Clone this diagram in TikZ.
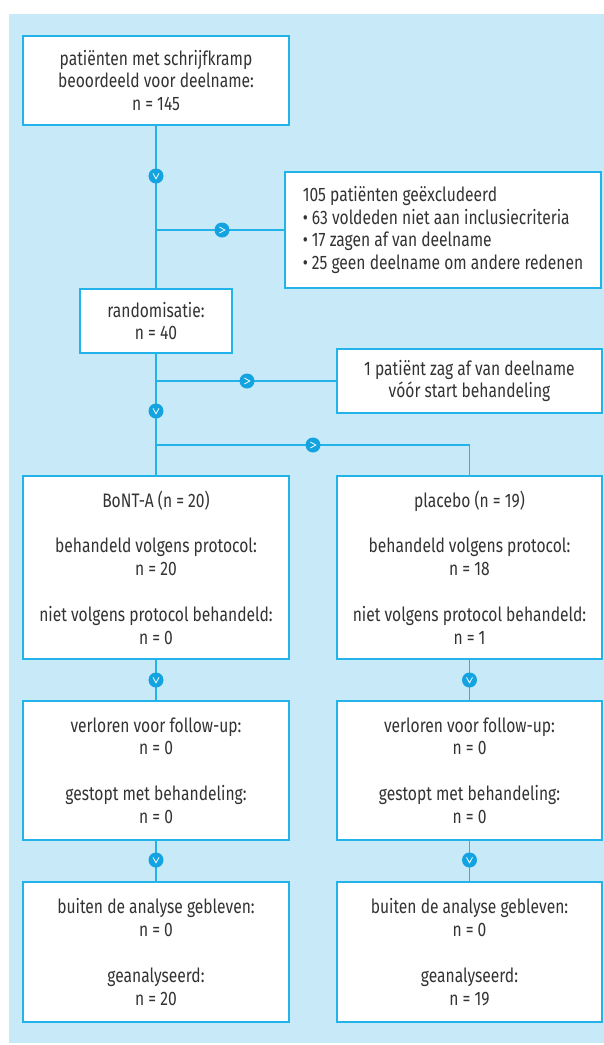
\documentclass[tikz,border=0pt]{standalone}
\usepackage{fontspec}
\setmainfont{Fira Sans}[FakeStretch=0.8]
\definecolor{bgblue}{HTML}{C8E9F8}
\definecolor{lineblue}{HTML}{22B3EA}
\definecolor{dotblue}{HTML}{12A3E0}
\definecolor{textgray}{HTML}{333333}
\tikzset{
  box/.style={draw=lineblue, line width=1.5pt, fill=white, align=center,
    text=textgray, font=\fontsize{19.5}{22.8}\selectfont, inner sep=0pt},
  conn/.style={draw=lineblue, line width=1.5pt},
  dot/.style={circle, fill=dotblue, minimum size=15pt, inner sep=0pt},
  dotdown/.style={dot, path picture={\draw[white, line width=0.8pt, line join=miter]
     ([shift={(-3pt,2.6pt)}]path picture bounding box.center) --
     ([shift={(0pt,-2.8pt)}]path picture bounding box.center) --
     ([shift={(3pt,2.6pt)}]path picture bounding box.center);}},
  dotright/.style={dot, path picture={\draw[white, line width=0.8pt, line join=miter]
     ([shift={(-2.6pt,3pt)}]path picture bounding box.center) --
     ([shift={(2.8pt,0pt)}]path picture bounding box.center) --
     ([shift={(-2.6pt,-3pt)}]path picture bounding box.center);}},
}
\begin{document}
\begin{tikzpicture}[x=1pt,y=-1pt]
\useasboundingbox (0,0) rectangle (604,1045);
\fill[bgblue] (9,14) rectangle (604,1043);

% boxes
\node[box, minimum width=266pt, minimum height=89pt] (b1) at (156,80.5)
  {patiënten met schrijfkramp\\beoordeeld voor deelname:\\n = 145};
\node[box, minimum width=316pt, minimum height=116pt, align=left] (ex1) at (443,230)
  {105 patiënten geëxcludeerd\\• 63 voldeden niet aan inclusiecriteria\\• 17 zagen af van deelname\\• 25 geen deelname om andere redenen};
\node[box, minimum width=152pt, minimum height=64pt] (rand) at (156,321)
  {randomisatie:\\n = 40};
\node[box, minimum width=265pt, minimum height=64pt] (ex2) at (469.5,381)
  {1 patiënt zag af van deelname\\vóór start behandeling};
\node[box, minimum width=266pt, minimum height=183pt] (bont) at (156,567.5)
  {BoNT-A (n = 20)\\[22.8pt]behandeld volgens protocol:\\n = 20\\[22.8pt]niet volgens protocol behandeld:\\n = 0};
\node[box, minimum width=265pt, minimum height=183pt] (plac) at (469.5,567.5)
  {placebo (n = 19)\\[22.8pt]behandeld volgens protocol:\\n = 18\\[22.8pt]niet volgens protocol behandeld:\\n = 1};
\node[box, minimum width=266pt, minimum height=139pt] (fl) at (156,770.5)
  {verloren voor follow-up:\\n = 0\\[22.8pt]gestopt met behandeling:\\n = 0};
\node[box, minimum width=265pt, minimum height=139pt] (fr) at (469.5,770.5)
  {verloren voor follow-up:\\n = 0\\[22.8pt]gestopt met behandeling:\\n = 0};
\node[box, minimum width=266pt, minimum height=140pt] (al) at (156,952)
  {buiten de analyse gebleven:\\n = 0\\[22.8pt]geanalyseerd:\\n = 20};
\node[box, minimum width=265pt, minimum height=140pt] (ar) at (469.5,952)
  {buiten de analyse gebleven:\\n = 0\\[22.8pt]geanalyseerd:\\n = 19};

% junctions
\coordinate (j1) at (156,230);
\coordinate (j2) at (156,381);
\coordinate (j3) at (156,445);
\coordinate (j4) at (469.5,445);

% connectors
\draw[conn] (b1) -- (rand);
\draw[conn] (j1) -- (ex1);
\draw[conn] (rand) -- (bont);
\draw[conn] (j2) -- (ex2);
\draw[conn] (j3) -- (j4) -- (plac);
\draw[conn] (bont) -- (fl);
\draw[conn] (fl) -- (al);
\draw[conn] (plac) -- (fr);
\draw[conn] (fr) -- (ar);

% markers
\node[dotdown] (m1) at (156,176) {};
\node[dotright] (m2) at (222,230) {};
\node[dotright] (m3) at (247,381) {};
\node[dotdown] (m4) at (156,411) {};
\node[dotright] (m5) at (313,445) {};
\node[dotdown] (m6) at (156,680) {};
\node[dotdown] (m7) at (469.5,680) {};
\node[dotdown] (m8) at (156,860) {};
\node[dotdown] (m9) at (469.5,860) {};
\end{tikzpicture}
\end{document}
